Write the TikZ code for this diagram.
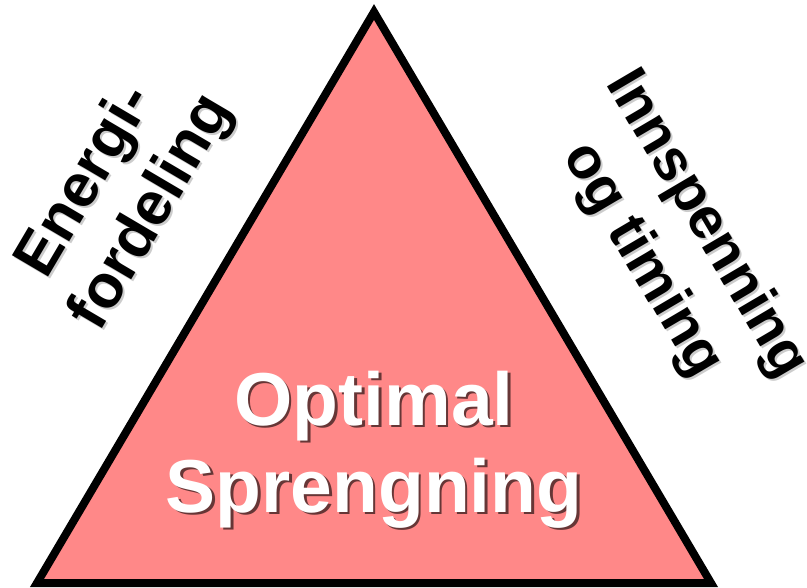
\documentclass[tikz,border=0pt]{standalone}
\usepackage{fontspec}
\setmainfont{Liberation Sans}
\definecolor{tri}{RGB}{255,136,136}
\begin{document}
\begin{tikzpicture}[x=1pt,y=-1pt,
  big/.style={font=\fontsize{75}{87}\selectfont\bfseries, inner sep=0pt, anchor=base},
  sidel/.style={font=\fontsize{61}{72}\selectfont\bfseries, inner sep=0pt, anchor=base, rotate=59.5},
  sider/.style={font=\fontsize{58}{70}\selectfont\bfseries, inner sep=0pt, anchor=base, rotate=-59.5},
  shadowtxt/.style={text=black, opacity=0.6},
  softshadow/.style={text=black, opacity=0.2}]
\useasboundingbox (0,0) rectangle (807,588);
\coordinate (A) at (374,12);
\coordinate (B) at (37,583);
\coordinate (C) at (711,583);
\draw[line width=8pt, fill=tri, line join=miter] (A) -- (B) -- (C) -- cycle;
% main title with drop shadow
\node[big, shadowtxt] (s1) at (376.5,427.5) {Optimal};
\node[big, shadowtxt] (s2) at (376.5,514.5) {Sprengning};
\node[big, text=white] (t1) at (374,425) {Optimal};
\node[big, text=white] (t2) at (374,512) {Sprengning};
% left label
\node[sidel, softshadow] (ls1) at (102,192) {Energi-};
\node[sidel, softshadow] (ls2) at (168,223) {fordeling};
\node[sidel] (l1) at (100,190) {Energi-};
\node[sidel] (l2) at (166,221) {fordeling};
% right label
\node[sider, softshadow] (rs1) at (695,234) {Innspenning};
\node[sider, softshadow] (rs2) at (631,270) {og timing};
\node[sider] (r1) at (693,232) {Innspenning};
\node[sider] (r2) at (629,268) {og timing};
\end{tikzpicture}
\end{document}
